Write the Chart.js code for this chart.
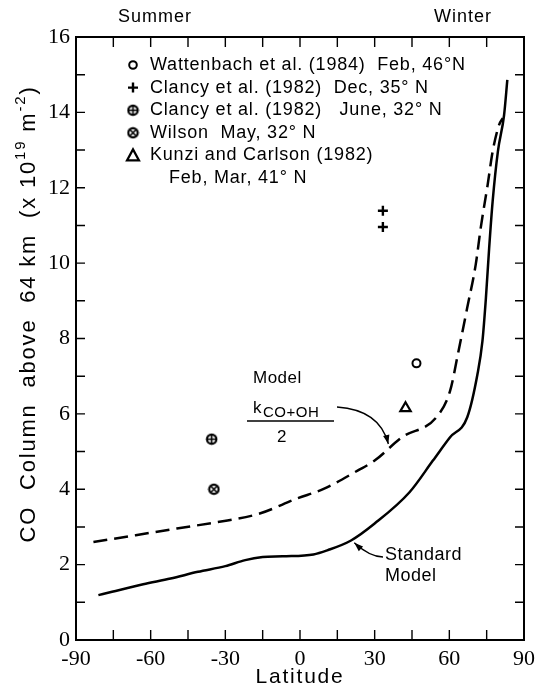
<!DOCTYPE html>
<html>
<head>
<meta charset="utf-8">
<script src="https://cdn.jsdelivr.net/npm/chart.js@4.4.1/dist/chart.umd.min.js"></script>
<style>
  html, body { margin: 0; padding: 0; background: #fff; }
  #wrap { width: 541px; height: 690px; }
</style>
</head>
<body>
<div id="wrap"><canvas id="coChart"></canvas></div>
<script>
// standard model curve
const stdLat = [-81, -75.5, -63, -52, -41, -30, -22, -15, -7, 5.4, 11, 20.5, 30, 44, 53.4, 60.3, 67.2, 71.3, 73.3, 74.7, 76, 77.4, 79.5, 82, 83.3];
const stdCol = [1.19, 1.28, 1.48, 1.63, 1.81, 1.96, 2.12, 2.2, 2.22, 2.27, 2.38, 2.64, 3.09, 3.92, 4.76, 5.38, 5.91, 7.05, 7.93, 9.08, 10.4, 11.64, 12.96, 13.93, 14.86];

// model with k(CO+OH)/2
const halfLat = [-83, -66, -49.5, -33, -16.5, -1.4, 9.5, 23.3, 30, 41, 54.8, 60.3, 63.7, 67.2, 70.6, 72.6, 75.4, 77.4, 80, 81.5];
const halfCol = [2.6, 2.78, 2.96, 3.13, 3.35, 3.75, 4.01, 4.5, 4.76, 5.38, 5.91, 6.61, 7.67, 8.82, 9.96, 10.93, 12.08, 12.96, 13.67, 13.85];

// observations
const wattLat = [46.8], wattCol = [7.34];
const clancyDecLat = [33.3, 33.3], clancyDecCol = [11.39, 10.96];
const clancyJunLat = [-35.5], clancyJunCol = [5.33];
const wilsonLat = [-34.6], wilsonCol = [4.0];
const kunziLat = [42.4], kunziCol = [6.15];

const xTicks = [-90, -60, -30, 0, 30, 60, 90];
const yTicks = [0, 2, 4, 6, 8, 10, 12, 14, 16];

const legendItems = [
  'Wattenbach et al. (1984)  Feb, 46\u00b0N',
  'Clancy et al. (1982)  Dec, 35\u00b0 N',
  'Clancy et al. (1982)   June, 32\u00b0 N',
  'Wilson  May, 32\u00b0 N',
  'Kunzi and Carlson (1982)'
];

const pts = (xs, ys) => xs.map((x, i) => ({ x: x, y: ys[i] }));

function makeMarker(kind) {
  const c = document.createElement('canvas');
  c.width = 13; c.height = 13;
  const g = c.getContext('2d');
  g.fillStyle = '#000';
  g.beginPath(); g.arc(6.5, 6.5, 5.8, 0, Math.PI * 2); g.fill();
  g.fillStyle = '#fff';
  g.beginPath(); g.arc(6.5, 6.5, 3.6, 0, Math.PI * 2); g.fill();
  g.strokeStyle = '#000'; g.lineWidth = 1.6;
  g.beginPath();
  if (kind === 'plus') {
    g.moveTo(6.5, 2); g.lineTo(6.5, 11); g.moveTo(2, 6.5); g.lineTo(11, 6.5);
  } else {
    g.moveTo(3.3, 3.3); g.lineTo(9.7, 9.7); g.moveTo(9.7, 3.3); g.lineTo(3.3, 9.7);
  }
  g.stroke();
  return c;
}
const circlePlus = makeMarker('plus');
const circleX = makeMarker('x');

function arrow(ctx, x0, y0, cx, cy, x1, y1) {
  ctx.beginPath();
  ctx.moveTo(x0, y0);
  ctx.quadraticCurveTo(cx, cy, x1, y1);
  ctx.lineWidth = 1.3;
  ctx.stroke();
  const a = Math.atan2(y1 - cy, x1 - cx);
  const L = 9, W = 3.2;
  ctx.beginPath();
  ctx.moveTo(x1, y1);
  ctx.lineTo(x1 - L * Math.cos(a) + W * Math.sin(a), y1 - L * Math.sin(a) - W * Math.cos(a));
  ctx.lineTo(x1 - L * Math.cos(a) - W * Math.sin(a), y1 - L * Math.sin(a) + W * Math.cos(a));
  ctx.closePath();
  ctx.fill();
}

const decorations = {
  id: 'decorations',
  afterDraw(chart) {
    const ctx = chart.ctx;
    const xs = chart.scales.x, ys = chart.scales.y;
    const a = chart.chartArea;
    const px = v => xs.getPixelForValue(v);
    const py = v => ys.getPixelForValue(v);
    ctx.save();
    ctx.strokeStyle = '#000';
    ctx.fillStyle = '#000';

    // frame
    ctx.lineWidth = 2;
    ctx.strokeRect(a.left, a.top, a.right - a.left, a.bottom - a.top);

    // inward ticks
    ctx.lineWidth = 1.4;
    ctx.beginPath();
    for (let v = -75; v <= 75; v += 15) {
      ctx.moveTo(px(v), a.bottom); ctx.lineTo(px(v), a.bottom - 10);
      ctx.moveTo(px(v), a.top); ctx.lineTo(px(v), a.top + 10);
    }
    for (let v = 1; v <= 15; v++) {
      ctx.moveTo(a.left, py(v)); ctx.lineTo(a.left + 9, py(v));
      ctx.moveTo(a.right, py(v)); ctx.lineTo(a.right - 9, py(v));
    }
    ctx.stroke();

    // Summer / Winter
    ctx.font = '18px "Liberation Sans"';
    ctx.letterSpacing = '1px';
    ctx.textAlign = 'center';
    ctx.textBaseline = 'middle';
    ctx.fillText('Summer', 155, a.top - 20);
    ctx.fillText('Winter', 463, a.top - 20);

    // legend
    const lx = 133, tx = 150, ly0 = 65, dy = 22.6;
    ctx.font = '18px "Liberation Sans"';
    ctx.letterSpacing = '0.8px';
    ctx.textAlign = 'left';
    legendItems.forEach((t, i) => {
      const y = ly0 + i * dy;
      ctx.fillText(t, tx, y);
      ctx.lineWidth = 2;
      if (i === 0) {
        ctx.beginPath(); ctx.arc(lx, y, 3.8, 0, Math.PI * 2); ctx.stroke();
      } else if (i === 1) {
        ctx.lineWidth = 2.4;
        ctx.beginPath();
        ctx.moveTo(lx - 5, y); ctx.lineTo(lx + 5, y);
        ctx.moveTo(lx, y - 5); ctx.lineTo(lx, y + 5);
        ctx.stroke();
      } else if (i === 2) {
        ctx.drawImage(circlePlus, lx - 6.5, y - 6.5);
      } else if (i === 3) {
        ctx.drawImage(circleX, lx - 6.5, y - 6.5);
      } else {
        ctx.lineWidth = 2.2;
        ctx.beginPath();
        ctx.moveTo(lx, y - 6); ctx.lineTo(lx + 6, y + 5); ctx.lineTo(lx - 6, y + 5);
        ctx.closePath(); ctx.stroke();
      }
    });
    ctx.fillText('Feb, Mar, 41\u00b0 N', 169, ly0 + 5 * dy);

    // model annotation
    ctx.letterSpacing = '0.5px';
    ctx.font = '17px "Liberation Sans"';
    ctx.fillText('Model', 253, 378);
    ctx.fillText('k', 253, 408);
    ctx.font = '15px "Liberation Sans"';
    ctx.fillText('CO+OH', 263, 413);
    ctx.lineWidth = 1.6;
    ctx.beginPath(); ctx.moveTo(247, 421); ctx.lineTo(334, 421); ctx.stroke();
    ctx.font = '17px "Liberation Sans"';
    ctx.textAlign = 'center';
    ctx.fillText('2', 282, 437);
    arrow(ctx, 337, 407, 380, 410, px(35.5), py(5.2));

    // standard model annotation
    ctx.textAlign = 'left';
    ctx.font = '18px "Liberation Sans"';
    ctx.fillText('Standard', 385, 555);
    ctx.fillText('Model', 385, 576);
    arrow(ctx, 383, 557, 370, 557, px(21.8), py(2.58));

    // x title
    ctx.font = '21px "Liberation Sans"';
    ctx.textAlign = 'center';
    ctx.letterSpacing = '1.8px';
    ctx.fillText('Latitude', (a.left + a.right) / 2, 677);

    // y title with superscripts, stretched to the reference length
    const segs = [
      { t: 'CO  Column  above  64 km  (x 10', s: false },
      { t: '19', s: true },
      { t: ' m', s: false },
      { t: '-2', s: true },
      { t: ')', s: false }
    ];
    const big = '22px "Liberation Sans"', small = '15px "Liberation Sans"';
    ctx.letterSpacing = '0px';
    let total = 0, chars = 0;
    segs.forEach(s => { ctx.font = s.s ? small : big; s.w = ctx.measureText(s.t).width; total += s.w; chars += s.t.length; });
    const sp = Math.max(0, (457 - total) / chars);
    ctx.letterSpacing = sp.toFixed(2) + 'px';
    total = 0;
    segs.forEach(s => { ctx.font = s.s ? small : big; s.w = ctx.measureText(s.t).width; total += s.w; });
    ctx.translate(29, 314);
    ctx.rotate(-Math.PI / 2);
    ctx.textAlign = 'left';
    let cx = -total / 2;
    segs.forEach(s => {
      ctx.font = s.s ? small : big;
      ctx.fillText(s.t, cx, s.s ? -8 : 0);
      cx += s.w;
    });
    ctx.restore();
  }
};

new Chart(document.getElementById('coChart'), {
  type: 'line',
  data: {
    datasets: [
      { data: pts(stdLat, stdCol), borderColor: '#000', borderWidth: 2.5, pointRadius: 0, cubicInterpolationMode: 'monotone', fill: false },
      { data: pts(halfLat, halfCol), borderColor: '#000', borderWidth: 2.5, borderDash: [14, 7], pointRadius: 0, cubicInterpolationMode: 'monotone', fill: false },
      { data: pts(wattLat, wattCol), showLine: false, pointStyle: 'circle', pointRadius: 4, borderWidth: 2, borderColor: '#000', backgroundColor: '#fff' },
      { data: pts(clancyDecLat, clancyDecCol), showLine: false, pointStyle: 'cross', pointRadius: 5, borderWidth: 2.4, borderColor: '#000' },
      { data: pts(clancyJunLat, clancyJunCol), showLine: false, pointStyle: circlePlus },
      { data: pts(wilsonLat, wilsonCol), showLine: false, pointStyle: circleX },
      { data: pts(kunziLat, kunziCol), showLine: false, pointStyle: 'triangle', pointRadius: 6, borderWidth: 2.2, borderColor: '#000', backgroundColor: '#fff' }
    ]
  },
  options: {
    responsive: true,
    maintainAspectRatio: false,
    animation: false,
    layout: { padding: { top: 37, right: 10, left: 0, bottom: 0 } },
    plugins: { legend: { display: false }, tooltip: { enabled: false } },
    scales: {
      x: {
        type: 'linear', min: -90, max: 90,
        afterBuildTicks: s => { s.ticks = xTicks.map(v => ({ value: v })); },
        afterFit: s => { s.height = 50; },
        grid: { display: false, drawTicks: false },
        border: { display: false },
        ticks: { color: '#000', padding: 6, font: { family: 'Liberation Sans Narrow', size: 22 }, maxRotation: 0 }
      },
      y: {
        type: 'linear', min: 0, max: 16,
        afterBuildTicks: s => { s.ticks = yTicks.map(v => ({ value: v })); },
        afterFit: s => { s.width = 76; },
        grid: { display: false, drawTicks: false },
        border: { display: false },
        ticks: { color: '#000', padding: 6, font: { family: 'Liberation Sans Narrow', size: 22 } }
      }
    }
  },
  plugins: [decorations]
});
</script>
</body>
</html>
